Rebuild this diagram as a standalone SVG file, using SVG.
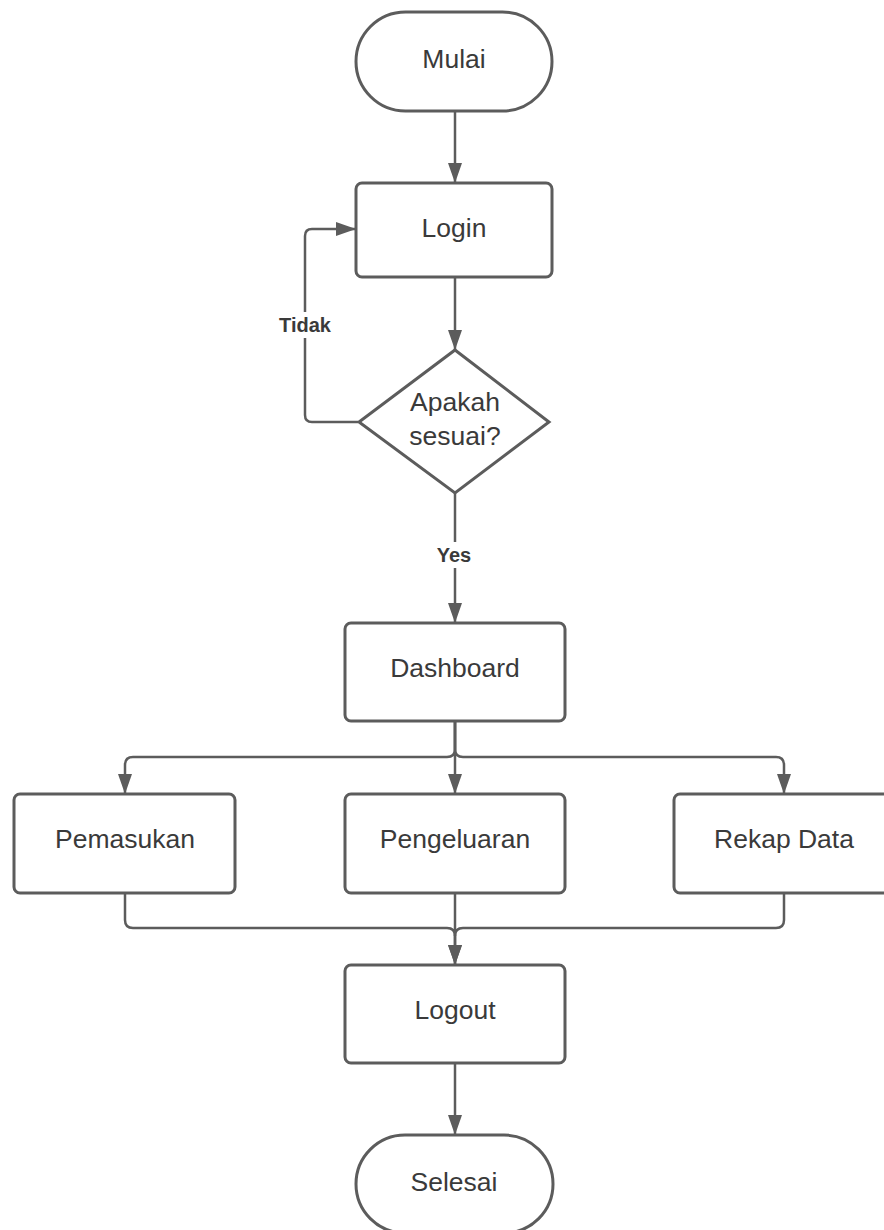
<svg xmlns="http://www.w3.org/2000/svg" width="884" height="1230" viewBox="0 0 884 1230">
<style>
.shape{fill:#ffffff;stroke:#5c5c5c;stroke-width:3}
.line{fill:none;stroke:#5c5c5c;stroke-width:2.5}
.t{font-family:"Liberation Sans",Arial,sans-serif;font-size:26.5px;fill:#3a3a3a;text-anchor:middle}
.lbl{font-family:"Liberation Sans",Arial,sans-serif;font-size:20px;font-weight:bold;fill:#3a3a3a;text-anchor:middle}
</style>
<defs>
<marker id="arr" viewBox="0 0 20 14" refX="20" refY="7" markerWidth="20" markerHeight="14" markerUnits="userSpaceOnUse" orient="auto">
<path d="M0,0 L20,7 L0,14 Z" fill="#5c5c5c"/>
</marker>
</defs>
<rect width="884" height="1230" fill="#ffffff"/>
<g id="connectors">
<path class="line" d="M455,111 V183" marker-end="url(#arr)"/>
<path class="line" d="M455,277 V350" marker-end="url(#arr)"/>
<path class="line" d="M358,422 H312 Q305,422 305,415 V236 Q305,229 312,229 H356" marker-end="url(#arr)"/>
<path class="line" d="M455,493 V623" marker-end="url(#arr)"/>
<path class="line" d="M455,721 V749 Q455,757 447,757 H133 Q125,757 125,765 V794" marker-end="url(#arr)"/>
<path class="line" d="M455,721 V749 Q455,757 463,757 H776 Q784,757 784,765 V794" marker-end="url(#arr)"/>
<path class="line" d="M455,721 V794" marker-end="url(#arr)"/>
<path class="line" d="M125,893 V920 Q125,928 133,928 H447 Q455,928 455,936 V965" marker-end="url(#arr)"/>
<path class="line" d="M784,893 V920 Q784,928 776,928 H463 Q455,928 455,936"/>
<path class="line" d="M455,893 V965" marker-end="url(#arr)"/>
<path class="line" d="M455,1063 V1135" marker-end="url(#arr)"/>
<rect x="278" y="312" width="54" height="26" fill="#ffffff"/>
<text class="lbl" x="305" y="332">Tidak</text>
<rect x="432" y="542" width="46" height="26" fill="#ffffff"/>
<text class="lbl" x="454" y="562">Yes</text>
</g>
<g id="mulai">
<rect class="shape" x="356" y="12" width="196" height="99" rx="49.5"/>
<text class="t" x="454" y="68">Mulai</text>
</g>
<g id="login">
<rect class="shape" x="356" y="183" width="196" height="94" rx="6"/>
<text class="t" x="454" y="237">Login</text>
</g>
<g id="apakah">
<polygon class="shape" points="455,350 549,422 455,493 359,422"/>
<text class="t" x="455" y="411">Apakah</text>
<text class="t" x="455" y="445">sesuai?</text>
</g>
<g id="dashboard">
<rect class="shape" x="345" y="623" width="220" height="98" rx="6"/>
<text class="t" x="455" y="677">Dashboard</text>
</g>
<g id="pemasukan">
<rect class="shape" x="14" y="794" width="221" height="99" rx="6"/>
<text class="t" x="125" y="848">Pemasukan</text>
</g>
<g id="pengeluaran">
<rect class="shape" x="345" y="794" width="220" height="99" rx="6"/>
<text class="t" x="455" y="848">Pengeluaran</text>
</g>
<g id="rekap">
<rect class="shape" x="674" y="794" width="220" height="99" rx="6"/>
<text class="t" x="784" y="848">Rekap Data</text>
</g>
<g id="logout">
<rect class="shape" x="345" y="965" width="220" height="98" rx="6"/>
<text class="t" x="455" y="1019">Logout</text>
</g>
<g id="selesai">
<rect class="shape" x="356" y="1135" width="197" height="98" rx="49"/>
<text class="t" x="454" y="1191">Selesai</text>
</g>
</svg>
